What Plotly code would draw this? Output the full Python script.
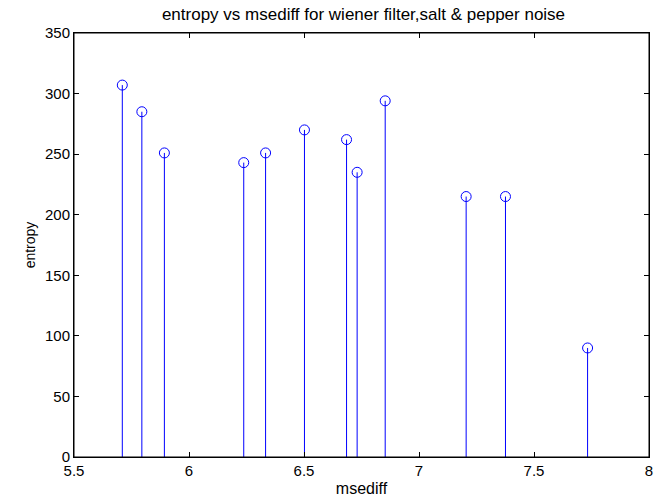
import plotly.graph_objects as go

msediff = [5.71, 5.795, 5.893, 6.238, 6.333, 6.502, 6.685, 6.731, 6.853, 7.205, 7.376, 7.733]
entropy = [307, 285, 251, 243, 251, 270, 262, 235, 294, 215, 215, 90]
x_ticks = [5.5, 6, 6.5, 7, 7.5, 8]
y_ticks = [0, 50, 100, 150, 200, 250, 300, 350]
x_range = [5.5, 8]
y_range = [0, 350]

stem_x, stem_y = [], []
for xv, yv in zip(msediff, entropy):
    stem_x += [xv, xv, None]
    stem_y += [0, yv, None]

FONT = "Liberation Sans, Arial, sans-serif"

fig = go.Figure()
fig.add_trace(go.Scatter(x=stem_x, y=stem_y, mode="lines",
                         line=dict(color="#0000ff", width=1), hoverinfo="skip"))
fig.add_trace(go.Scatter(x=msediff, y=entropy, mode="markers",
                         marker=dict(symbol="circle-open", size=10,
                                     line=dict(color="#0000ff", width=1), color="#0000ff")))

axis_common = dict(showgrid=False, zeroline=False, showline=True, linecolor="black",
                   linewidth=1, mirror="allticks", ticks="inside", ticklen=5, tickwidth=1,
                   tickcolor="black", ticklabeloverflow="allow",
                   tickfont=dict(family=FONT, size=15, color="black"))

L, R, T, B = 74, 8, 33, 47
W, H = 661, 504

fig.update_layout(
    width=W, height=H,
    margin=dict(l=L, r=R, t=T, b=B),
    paper_bgcolor="white", plot_bgcolor="white",
    showlegend=False,
    title=dict(text="entropy vs msediff for wiener filter,salt & pepper noise",
               x=(L + (W - R)) / 2 / W, xanchor="center", y=1 - 14 / H, yanchor="middle",
               font=dict(family=FONT, size=17, color="black")),
    xaxis=dict(range=x_range, tickvals=x_ticks, ticktext=[str(t) for t in x_ticks],
               title=dict(text="msediff", standoff=4,
                          font=dict(family=FONT, size=16, color="black")),
               **axis_common),
    yaxis=dict(range=y_range, tickvals=y_ticks,
               title=dict(text="entropy", standoff=6,
                          font=dict(family=FONT, size=14, color="black")),
               **axis_common),
    shapes=[dict(type="rect", xref="paper", yref="paper", x0=0, x1=1, y0=0, y1=1,
                 line=dict(color="black", width=1), layer="above")],
)

fig.write_html("out.html", config={"displayModeBar": False},
               post_script="document.body.style.margin='0';document.body.style.overflow='hidden';")
